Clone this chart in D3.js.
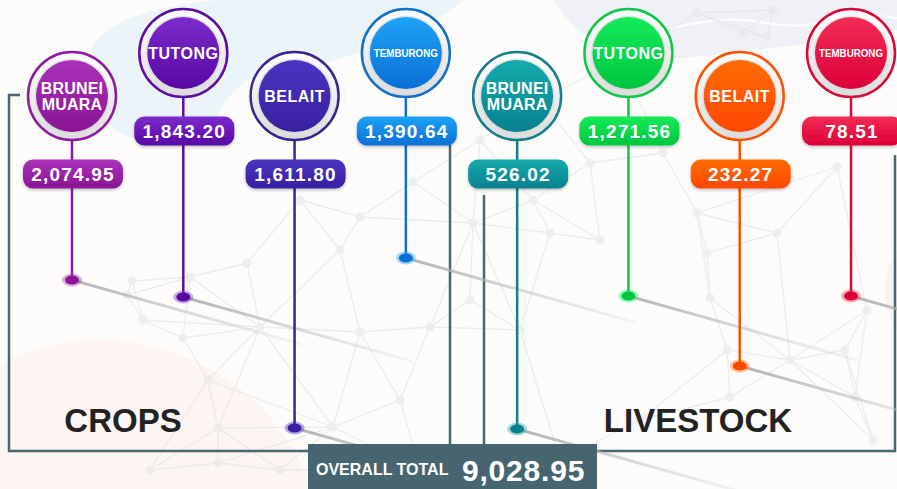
<!DOCTYPE html>
<html>
<head>
<meta charset="utf-8">
<script src="https://cdn.jsdelivr.net/npm/d3@7"></script>
<style>
  html, body { margin: 0; padding: 0; background: #fdfcfb; }
  svg { display: block; font-family: "Liberation Sans", Arial, sans-serif; }
</style>
</head>
<body>
<svg id="chart" width="897" height="489"></svg>
<script>
// data
const regions = ["BRUNEI MUARA", "TUTONG", "BELAIT", "TEMBURONG"];
const sectors = ["CROPS", "LIVESTOCK"];
const cropsValues = [2074.95, 1843.20, 1611.80, 1390.64];
const livestockValues = [526.02, 1271.56, 232.27, 78.51];
const totalLabel = "OVERALL TOTAL";

// colours per pin (top / bottom of gradient, ring)
const pinColours = [
  ["#aa32ba", "#8a1494", "#8e1a9e"],
  ["#7c2ccb", "#5806a6", "#5d0ca5"],
  ["#4c33c2", "#3820a0", "#3a2590"],
  ["#1ea2f7", "#0a6fd6", "#1270c8"],
  ["#14abab", "#08808f", "#127f8a"],
  ["#14ea5a", "#00c640", "#10c848"],
  ["#ff6c05", "#ff4600", "#ff5000"],
  ["#f32c55", "#dc0039", "#d80a38"]
];
// how far down each stem runs (layout only)
const stemEnd = [280, 297, 428, 258, 429, 296, 366, 296];

const items = [];
sectors.forEach((s, si) => {
  const vals = si === 0 ? cropsValues : livestockValues;
  regions.forEach((r, ri) => items.push({ sector: s, region: r, value: vals[ri] }));
});

const W = 897, H = 489;
const svg = d3.select("#chart");
const fmt = d3.format(",.2f");
const x = d3.scalePoint().domain(d3.range(items.length)).range([72, 851]);
const pinY = i => (i % 2 === 0 ? 96 : 53);

const defs = svg.append("defs");

// ---------- background ----------
const bg = svg.append("g");
bg.append("rect").attr("width", W).attr("height", H).attr("fill", "#fdfcfb");
bg.append("path")
  .attr("d", "M92,48 C110,10 200,-5 330,-5 L470,-5 C430,30 380,45 330,62 C290,72 250,60 220,110 C200,145 150,150 118,132 C95,118 85,80 92,48 Z")
  .attr("fill", "#ebf4f8");
bg.append("path")
  .attr("d", "M552,-2 C575,35 610,62 680,58 C760,52 830,40 897,30 L897,-2 Z")
  .attr("fill", "#eff1f6");
bg.append("path")
  .attr("d", "M590,30 C650,45 700,10 760,22 C820,34 850,10 897,18")
  .attr("fill", "none").attr("stroke", "#fff").attr("stroke-width", 2);
bg.append("circle").attr("cx", 100).attr("cy", 565).attr("r", 225).attr("fill", "#fcf5f1");
bg.append("circle").attr("cx", 960).attr("cy", 290).attr("r", 75).attr("fill", "#fcf1f1");

// faint network decoration
const nodes = [[132,281],[190,277],[247,263],[127,295],[143,320],[183,338],[260,327],[208,380],[218,428],[218,463],
  [360,332],[430,327],[333,427],[360,217],[413,182],[473,223],[533,200],[550,233],[590,163],[663,153],
  [697,13],[773,10],[743,33],[767,37],[837,167],[697,213],[777,233],[707,253],[710,298],[727,350],
  [790,360],[845,350],[867,310],[730,397],[855,397],[873,440],[400,400],[470,300],[520,330],[600,240],
  [640,420],[560,460],[280,470],[420,470],[150,470],[340,250],[300,200],[620,60],[540,100],[480,140]];
const hubs = new Set([6, 12, 15, 30]);
const edgeSet = new Set();
const edges = [];
nodes.forEach((n, i) => {
  const k = hubs.has(i) ? 8 : 3;
  nodes.map((m, j) => ({ j, d: Math.hypot(m[0] - n[0], m[1] - n[1]) }))
    .filter(o => o.j !== i).sort((a, b) => a.d - b.d).slice(0, k)
    .forEach(o => {
      const key = Math.min(i, o.j) + "-" + Math.max(i, o.j);
      if (!edgeSet.has(key)) { edgeSet.add(key); edges.push([n, nodes[o.j]]); }
    });
});
const net = svg.append("g").attr("opacity", 0.6);
net.selectAll("line").data(edges).join("line")
  .attr("x1", d => d[0][0]).attr("y1", d => d[0][1])
  .attr("x2", d => d[1][0]).attr("y2", d => d[1][1])
  .attr("stroke", "#e2e2e2").attr("stroke-width", 1.3);
net.selectAll("circle").data(nodes).join("circle")
  .attr("cx", d => d[0]).attr("cy", d => d[1]).attr("r", 4.5)
  .attr("fill", "#e6e6e8");

// ---------- brackets ----------
const frame = svg.append("g").attr("fill", "none").attr("stroke", "#4a6670").attr("stroke-width", 2.5);
frame.append("path").attr("d", `M20,95 H9 V451 H${450} V143`);
frame.append("path").attr("d", `M484,195 V451 H895 V155`);

// sector titles
const sectorX = [123, 698];
svg.selectAll(".sector").data(sectors).join("text")
  .attr("class", "sector")
  .attr("x", (d, i) => sectorX[i]).attr("y", 432)
  .attr("text-anchor", "middle")
  .attr("font-size", 33).attr("font-weight", "bold").attr("fill", "#222")
  .text(d => d);

// ---------- gradients ----------
items.forEach((d, i) => {
  const g = defs.append("linearGradient").attr("id", "grad" + i)
    .attr("x1", 0).attr("y1", 0).attr("x2", 0).attr("y2", 1);
  g.append("stop").attr("offset", "0%").attr("stop-color", pinColours[i][0]);
  g.append("stop").attr("offset", "100%").attr("stop-color", pinColours[i][1]);
});
const ringGrad = defs.append("linearGradient").attr("id", "ringGrad")
  .attr("x1", 0).attr("y1", 0).attr("x2", 0).attr("y2", 1);
ringGrad.append("stop").attr("offset", "0%").attr("stop-color", "#ffffff");
ringGrad.append("stop").attr("offset", "100%").attr("stop-color", "#dcdcdc");
const trailFade = defs.append("linearGradient").attr("id", "trailFade")
  .attr("gradientUnits", "objectBoundingBox")
  .attr("x1", 0).attr("y1", 0).attr("x2", 1).attr("y2", 0);
trailFade.append("stop").attr("offset", "0%").attr("stop-color", "#a8a8a8").attr("stop-opacity", 0.9);
trailFade.append("stop").attr("offset", "100%").attr("stop-color", "#c8c8c8").attr("stop-opacity", 0.15);
const drop = defs.append("filter").attr("id", "drop").attr("x", "-20%").attr("y", "-20%").attr("width", "140%").attr("height", "160%");
drop.append("feDropShadow").attr("dx", 0).attr("dy", 1.5).attr("stdDeviation", 1.5)
  .attr("flood-color", "#000").attr("flood-opacity", 0.25);

// ---------- pins ----------
const R = 44, r = 36;
const pins = svg.selectAll(".pin").data(items).join("g").attr("class", "pin");

// grey shadow trail from each dot (drawn as thin polygon so the gradient works)
const trailLen = 230, slope = 0.28;
pins.append("path")
  .attr("d", (d, i) => {
    const x0 = x(i), y0 = stemEnd[i];
    return `M${x0},${y0 - 1.5} L${x0 + trailLen},${y0 + trailLen * slope - 1.5} L${x0 + trailLen},${y0 + trailLen * slope + 1.5} L${x0},${y0 + 1.5} Z`;
  })
  .attr("fill", "url(#trailFade)");

// stem
pins.append("line")
  .attr("x1", (d, i) => x(i)).attr("x2", (d, i) => x(i))
  .attr("y1", (d, i) => pinY(i) + R).attr("y2", (d, i) => stemEnd[i])
  .attr("stroke", (d, i) => pinColours[i][2]).attr("stroke-width", 2.5);

// dot
pins.append("ellipse")
  .attr("cx", (d, i) => x(i)).attr("cy", (d, i) => stemEnd[i])
  .attr("rx", 10).attr("ry", 6.5)
  .attr("fill", (d, i) => pinColours[i][0]).attr("opacity", 0.4);
pins.append("ellipse")
  .attr("cx", (d, i) => x(i)).attr("cy", (d, i) => stemEnd[i])
  .attr("rx", 7).attr("ry", 4.5)
  .attr("fill", (d, i) => pinColours[i][1]);

// circle head
pins.append("circle")
  .attr("cx", (d, i) => x(i)).attr("cy", (d, i) => pinY(i)).attr("r", R)
  .attr("fill", "url(#ringGrad)")
  .attr("stroke", (d, i) => pinColours[i][2]).attr("stroke-width", 2.5);
pins.append("circle")
  .attr("cx", (d, i) => x(i)).attr("cy", (d, i) => pinY(i)).attr("r", r + 1.5)
  .attr("fill", "#d6d6d6").attr("opacity", 0.6);
pins.append("circle")
  .attr("cx", (d, i) => x(i)).attr("cy", (d, i) => pinY(i)).attr("r", r)
  .attr("fill", (d, i) => `url(#grad${i})`);

// region names
pins.each(function (d, i) {
  const g = d3.select(this);
  const cx = x(i), cy = pinY(i);
  const t = g.append("text").attr("text-anchor", "middle").attr("fill", "#fff")
    .attr("font-weight", "bold");
  if (d.region === "BRUNEI MUARA") {
    t.attr("font-size", 16).attr("letter-spacing", 0.2);
    t.append("tspan").attr("x", cx).attr("y", cy - 2).text("BRUNEI");
    t.append("tspan").attr("x", cx).attr("y", cy + 14).text("MUARA");
  } else if (d.region === "TEMBURONG") {
    t.attr("x", cx).attr("y", cy + 4).attr("font-size", 11.5)
      .attr("textLength", 64).attr("lengthAdjust", "spacingAndGlyphs")
      .text(d.region);
  } else {
    t.attr("x", cx).attr("y", cy + 6).attr("font-size", 16).attr("letter-spacing", 0.5)
      .text(d.region);
  }
});

// value boxes
const bw = 100, bh = 29;
pins.append("rect")
  .attr("x", (d, i) => x(i) - bw / 2 + 1).attr("y", (d, i) => pinY(i) + 78 - bh / 2)
  .attr("width", bw).attr("height", bh).attr("rx", 10)
  .attr("fill", (d, i) => `url(#grad${i})`)
  .attr("filter", "url(#drop)");
pins.append("text")
  .attr("x", (d, i) => x(i) + 1).attr("y", (d, i) => pinY(i) + 78 + 7)
  .attr("text-anchor", "middle").attr("fill", "#fff")
  .attr("font-size", 19).attr("font-weight", "bold").attr("letter-spacing", 1.2)
  .text(d => fmt(d.value));

// ---------- overall total ----------
const total = d3.sum(items, d => d.value);
svg.append("rect").attr("x", 308).attr("y", 444).attr("width", 289).attr("height", 60)
  .attr("fill", "#476570");
svg.append("text").attr("x", 316).attr("y", 475)
  .attr("fill", "#fff").attr("font-size", 16).attr("font-weight", "bold")
  .text(totalLabel);
svg.append("text").attr("x", 462).attr("y", 481)
  .attr("fill", "#fff").attr("font-size", 30).attr("font-weight", "bold").attr("letter-spacing", 0.8)
  .text(fmt(total));
</script>
</body>
</html>
